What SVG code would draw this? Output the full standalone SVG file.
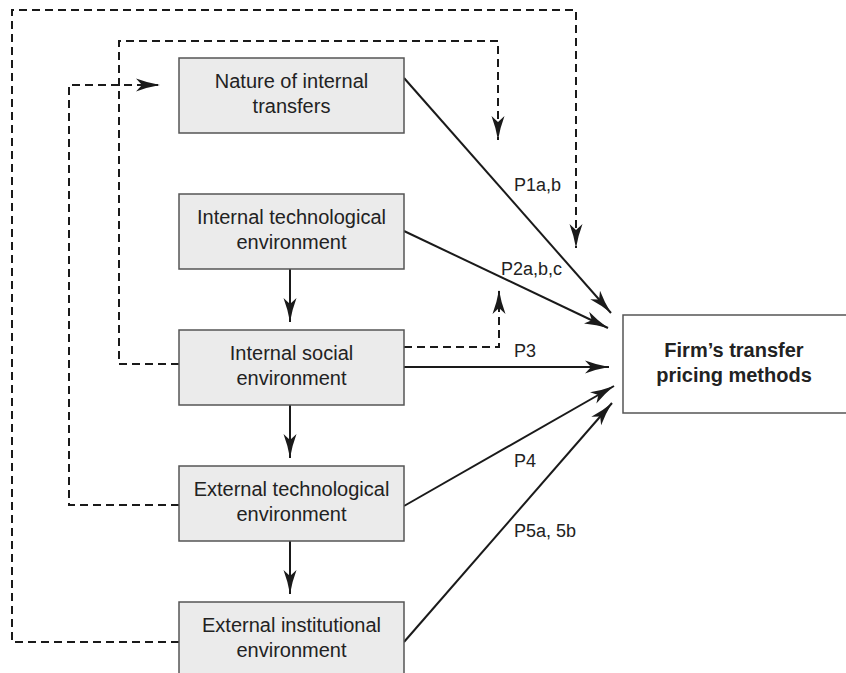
<svg xmlns="http://www.w3.org/2000/svg" width="846" height="673" viewBox="0 0 846 673">
<defs>
<marker id="ah" viewBox="0 0 24 14" refX="24" refY="7" markerWidth="24" markerHeight="14" markerUnits="userSpaceOnUse" orient="auto">
<path d="M0,0.5 Q12,5 24,7 Q12,9 0,13.5 L6,7 Z" fill="#1a1a1a"/>
</marker>
<style>
.box{fill:#ebebeb;stroke:#555;stroke-width:1.5}
.fbox{fill:#fff;stroke:#555;stroke-width:1.5}
.t{font-family:"Liberation Sans",Arial,sans-serif;font-size:20px;fill:#222;text-anchor:middle}
.tb{font-family:"Liberation Sans",Arial,sans-serif;font-size:20px;font-weight:bold;fill:#222;text-anchor:middle}
.lbl{font-family:"Liberation Sans",Arial,sans-serif;font-size:18px;fill:#222}
.s{fill:none;stroke:#1a1a1a;stroke-width:2;marker-end:url(#ah)}
.da{fill:none;stroke:#1a1a1a;stroke-width:2;stroke-dasharray:8,5;marker-end:url(#ah)}
</style>
</defs>
<g id="connectors">
<path class="da" d="M179,642 H12 V10 H576 V248"/>
<path class="da" d="M179,364 H119 V41 H498 V140"/>
<path class="da" d="M179,505 H69 V85 H160"/>
<path class="da" d="M404,347 H499 V290"/>
<path class="s" d="M404,78 L611,313"/>
<path class="s" d="M404,231 L608,328"/>
<path class="s" d="M404,367 L609,367"/>
<path class="s" d="M404,506 L614,386"/>
<path class="s" d="M404,642 L612,403"/>
<path class="s" d="M290,269 V322"/>
<path class="s" d="M290,405 V458"/>
<path class="s" d="M290,541 V594"/>
<text class="lbl" x="514" y="191">P1a,b</text>
<text class="lbl" x="501" y="275">P2a,b,c</text>
<text class="lbl" x="514" y="357">P3</text>
<text class="lbl" x="514" y="467">P4</text>
<text class="lbl" x="514" y="537">P5a, 5b</text>
</g>
<g id="n1">
<rect class="box" x="179" y="58" width="225" height="75"/>
<text class="t" x="291.5" y="88">Nature of internal</text>
<text class="t" x="291.5" y="113">transfers</text>
</g>
<g id="n2">
<rect class="box" x="179" y="194" width="225" height="75"/>
<text class="t" x="291.5" y="224">Internal technological</text>
<text class="t" x="291.5" y="249">environment</text>
</g>
<g id="n3">
<rect class="box" x="179" y="330" width="225" height="75"/>
<text class="t" x="291.5" y="360">Internal social</text>
<text class="t" x="291.5" y="385">environment</text>
</g>
<g id="n4">
<rect class="box" x="179" y="466" width="225" height="75"/>
<text class="t" x="291.5" y="496">External technological</text>
<text class="t" x="291.5" y="521">environment</text>
</g>
<g id="n5">
<rect class="box" x="179" y="602" width="225" height="80"/>
<text class="t" x="291.5" y="632">External institutional</text>
<text class="t" x="291.5" y="657">environment</text>
</g>
<g id="firm">
<rect class="fbox" x="623" y="315" width="230" height="98"/>
<text class="tb" x="734" y="357">Firm’s transfer</text>
<text class="tb" x="734" y="382">pricing methods</text>
</g>
</svg>
